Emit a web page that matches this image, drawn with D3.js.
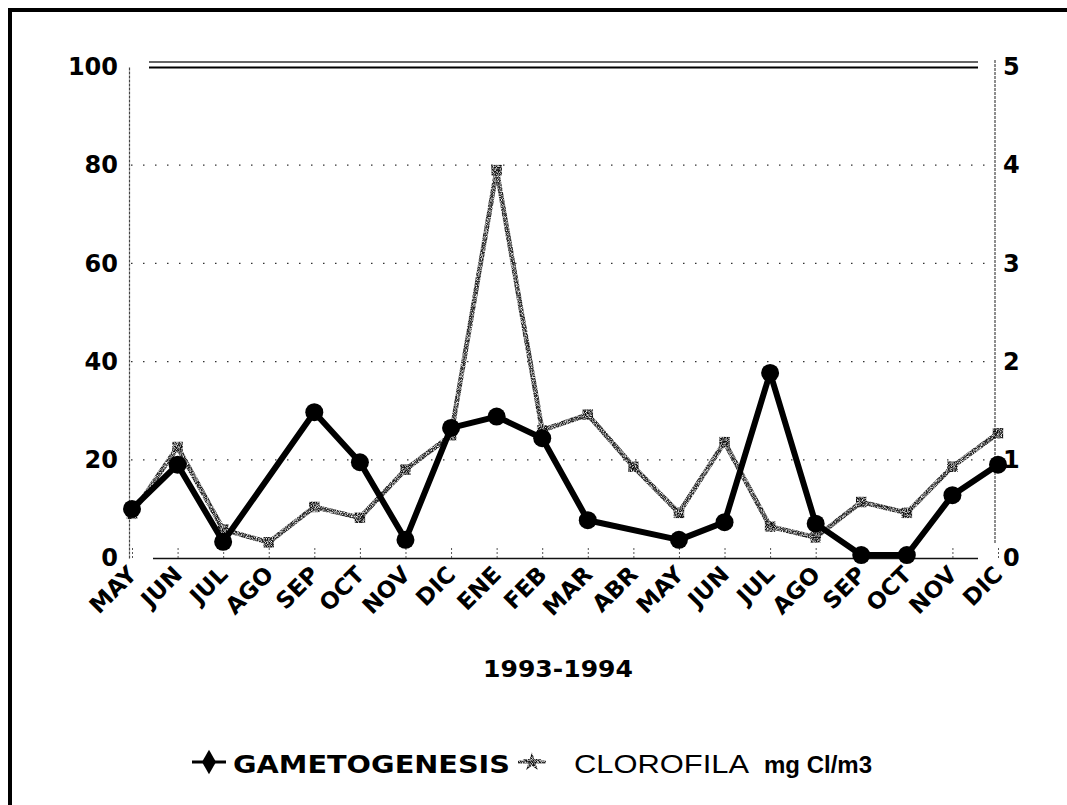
<!DOCTYPE html>
<html>
<head>
<meta charset="utf-8">
<script src="https://cdn.jsdelivr.net/npm/d3@7/dist/d3.min.js"></script>
<style>
  html, body { margin: 0; padding: 0; background: #fff; }
  svg { display: block; }
</style>
</head>
<body>
<svg id="chart" width="1067" height="805"></svg>
<script>
// Monthly samples, May 1993 – December 1994
const months = ["MAY","JUN","JUL","AGO","SEP","OCT","NOV","DIC","ENE","FEB",
                "MAR","ABR","MAY","JUN","JUL","AGO","SEP","OCT","NOV","DIC"];
// Gametogenesis (%), left axis; null = no sample that month
const gametogenesis = [10, 19, 3.3, null, 29.7, 19.5, 3.7, 26.5, 28.8, 24.4,
                       7.7, null, 3.7, 7.3, 37.7, 7, 0.6, 0.6, 12.8, 19];
// Chlorophyll (mg Cl/m3), right axis
const clorofila = [0.45, 1.13, 0.29, 0.16, 0.52, 0.41, 0.9, 1.25, 3.95, 1.3,
                   1.46, 0.93, 0.46, 1.18, 0.32, 0.21, 0.57, 0.46, 0.93, 1.27];
const leftTicks = [0, 20, 40, 60, 80, 100];
const rightTicks = [0, 1, 2, 3, 4, 5];
const xTitle = "1993-1994";

const svg = d3.select("#chart");

const x = d3.scalePoint().domain(d3.range(months.length)).range([132, 998]);
const yL = d3.scaleLinear().domain([0, 100]).range([558, 67]);
const yR = d3.scaleLinear().domain([0, 5]).range([558, 67]);

// grainy texture for the chlorophyll trace
const defs = svg.append("defs");
const grain = defs.append("filter").attr("id", "grain")
  .attr("x", "-5%").attr("y", "-5%").attr("width", "110%").attr("height", "110%");
grain.append("feTurbulence").attr("type", "fractalNoise")
  .attr("baseFrequency", 1.2).attr("numOctaves", 1).attr("seed", 3).attr("result", "noise");
grain.append("feColorMatrix").attr("in", "noise").attr("type", "matrix")
  .attr("values", "0 0 0 0 0  0 0 0 0 0  0 0 0 0 0  0 0 0 -2.6 2.0").attr("result", "mask");
grain.append("feComposite").attr("in", "SourceGraphic").attr("in2", "mask")
  .attr("operator", "in");

// page frame (top and left rules)
svg.append("line").attr("x1", 8).attr("x2", 1067).attr("y1", 10).attr("y2", 10)
  .attr("stroke", "#000").attr("stroke-width", 4);
svg.append("line").attr("x1", 10).attr("x2", 10).attr("y1", 8).attr("y2", 805)
  .attr("stroke", "#000").attr("stroke-width", 4);

// double rule along the top of the plot
svg.append("line").attr("x1", 149).attr("x2", 978).attr("y1", 62).attr("y2", 62)
  .attr("stroke", "#333").attr("stroke-width", 1.5);
svg.append("line").attr("x1", 149).attr("x2", 978).attr("y1", 67.5).attr("y2", 67.5)
  .attr("stroke", "#000").attr("stroke-width", 2.2);

// dotted horizontal gridlines
svg.append("g").selectAll("line")
  .data(leftTicks.filter(d => d > 0 && d < 100))
  .join("line")
  .attr("x1", 131).attr("x2", 992)
  .attr("y1", d => yL(d)).attr("y2", d => yL(d))
  .attr("stroke", "#333").attr("stroke-width", 1.3)
  .attr("stroke-dasharray", "1.5,10.5");

// left axis
const gL = svg.append("g").attr("transform", "translate(129,0)")
  .call(d3.axisLeft(yL).tickValues(leftTicks).tickSize(0).tickPadding(11));
gL.select(".domain").attr("stroke", "#444").attr("stroke-width", 1.2)
  .attr("stroke-dasharray", "3,1");
gL.selectAll("text").attr("font-family", "DejaVu Sans").attr("font-weight", "bold")
  .attr("font-size", 24).attr("fill", "#000");

// right axis
const gR = svg.append("g").attr("transform", "translate(995,0)")
  .call(d3.axisRight(yR).tickValues(rightTicks).tickFormat(d3.format("d"))
    .tickSize(0).tickPadding(8));
gR.select(".domain").attr("stroke", "#444").attr("stroke-width", 1.2)
  .attr("stroke-dasharray", "3,1").attr("d", "M0,60V543");
gR.selectAll("text").attr("font-family", "DejaVu Sans").attr("font-weight", "bold")
  .attr("font-size", 24).attr("fill", "#000");

// baseline
svg.append("line").attr("x1", 153).attr("x2", 978)
  .attr("y1", 558.5).attr("y2", 558.5)
  .attr("stroke", "#111").attr("stroke-width", 1.6);

// small dotted ticks at each month
const gX = svg.append("g").attr("transform", "translate(0,558)")
  .call(d3.axisBottom(x).tickFormat("").tickSize(-10));
gX.select(".domain").remove();
gX.selectAll(".tick line").attr("stroke", "#555").attr("stroke-width", 1)
  .attr("stroke-dasharray", "2,2");

// rotated month labels
svg.append("g").selectAll("text").data(months).join("text")
  .attr("transform", (d, i) => `translate(${x(i) + 6},${576}) rotate(-45)`)
  .attr("text-anchor", "end")
  .attr("font-family", "DejaVu Sans").attr("font-weight", "bold")
  .attr("font-size", 23).attr("fill", "#000")
  .text(d => d);

// axis title
svg.append("text").attr("x", 558).attr("y", 677)
  .attr("text-anchor", "middle")
  .attr("font-family", "DejaVu Sans").attr("font-weight", "bold")
  .attr("font-size", 23).attr("textLength", 150).attr("lengthAdjust", "spacingAndGlyphs")
  .text(xTitle);

// chlorophyll series (right axis)
const clPts = clorofila.map((v, i) => [x(i), yR(v)]);
const gCl = svg.append("g").attr("filter", "url(#grain)");
gCl.append("path")
  .attr("d", d3.line()(clPts))
  .attr("fill", "none").attr("stroke", "#222").attr("stroke-width", 4.8)
  .attr("stroke-linejoin", "round");
gCl.selectAll("path.mk").data(clPts).join("path").attr("class", "mk")
  .attr("transform", d => `translate(${d[0]},${d[1]})`)
  .attr("d", d3.symbol(d3.symbolSquare, 110))
  .attr("fill", "#111");

// gametogenesis series (left axis), gaps bridged
const gaPts = gametogenesis.map((v, i) => v == null ? null : [x(i), yL(v)]).filter(d => d);
svg.append("path")
  .attr("d", d3.line()(gaPts))
  .attr("fill", "none").attr("stroke", "#000").attr("stroke-width", 6)
  .attr("stroke-linejoin", "round");
svg.append("g").selectAll("circle").data(gaPts).join("circle")
  .attr("cx", d => d[0]).attr("cy", d => d[1]).attr("r", 9)
  .attr("fill", "#000");

// legend
const lg = svg.append("g");
lg.append("line").attr("x1", 192).attr("x2", 226).attr("y1", 762).attr("y2", 762)
  .attr("stroke", "#000").attr("stroke-width", 3);
lg.append("path").attr("transform", "translate(209,762)")
  .attr("d", d3.symbol(d3.symbolDiamond, 170)).attr("fill", "#000");
lg.append("text").attr("x", 233).attr("y", 773)
  .attr("font-family", "DejaVu Sans").attr("font-weight", "bold").attr("font-size", 24)
  .attr("textLength", 277).attr("lengthAdjust", "spacingAndGlyphs")
  .text("GAMETOGENESIS");
const lgCl = lg.append("g").attr("filter", "url(#grain)");
lgCl.append("line").attr("x1", 518).attr("x2", 546).attr("y1", 762).attr("y2", 762)
  .attr("stroke", "#222").attr("stroke-width", 3);
lgCl.append("path").attr("transform", "translate(532,762)")
  .attr("d", d3.symbol(d3.symbolStar, 110)).attr("fill", "#111");
lg.append("text").attr("x", 574).attr("y", 773)
  .attr("font-family", "Liberation Sans").attr("font-size", 26)
  .attr("textLength", 175).attr("lengthAdjust", "spacingAndGlyphs")
  .text("CLOROFILA");
lg.append("text").attr("x", 764).attr("y", 773)
  .attr("font-family", "Liberation Sans").attr("font-weight", "bold").attr("font-size", 24)
  .text("mg Cl/m3");
</script>
</body>
</html>
